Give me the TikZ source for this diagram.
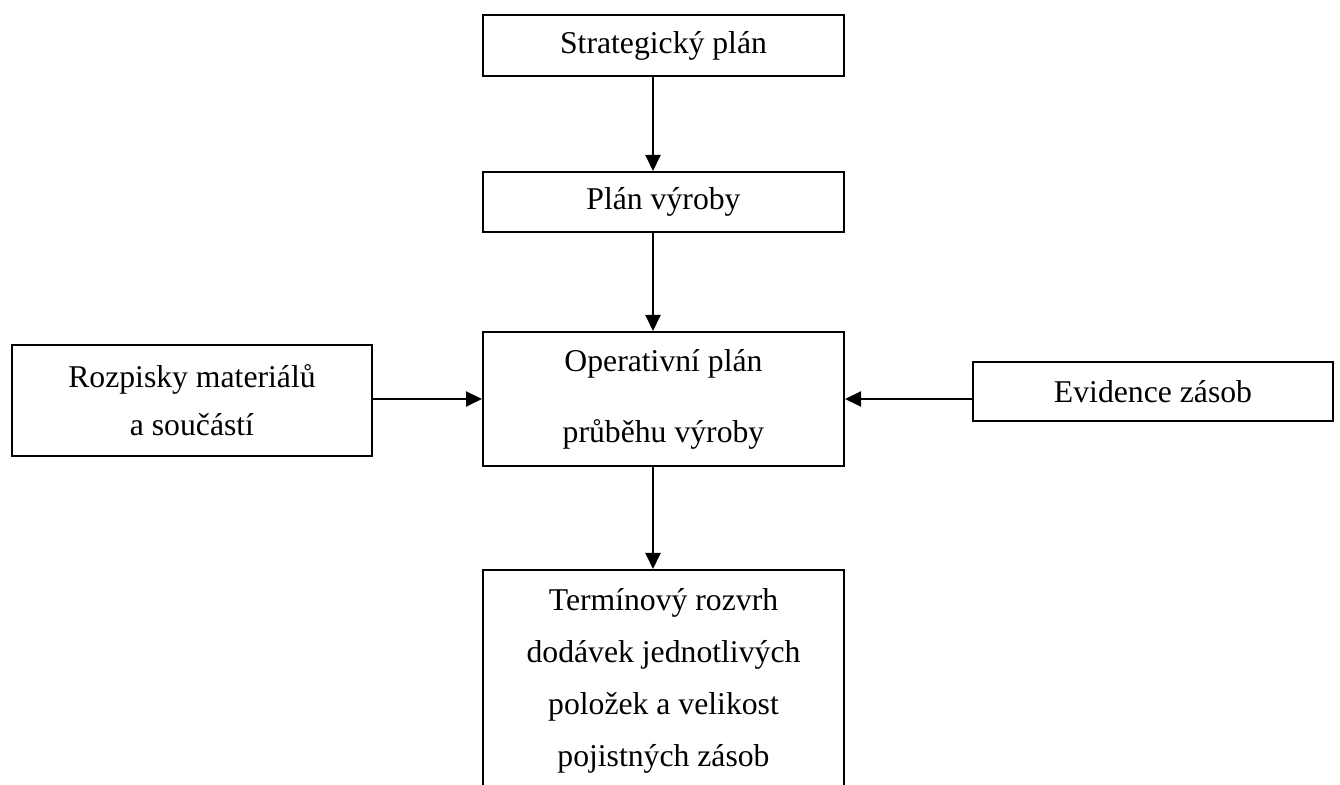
\documentclass[tikz,border=0pt]{standalone}
\usepackage{fontspec}
\setmainfont{Liberation Serif}
\usetikzlibrary{arrows.meta}

\tikzset{
  blok/.style={draw, line width=1pt, minimum width=180.5pt, inner sep=0pt, align=center, font=\fontsize{15.85}{24}\selectfont},
  sipka/.style={-{Triangle[length=8pt,width=7.5pt]}, line width=1pt}
}

\begin{document}
\begin{tikzpicture}[x=0.5pt,y=-0.5pt]
\useasboundingbox (0,0) rectangle (1340,785);
\clip (0,0) rectangle (1340,785);

\node[blok,minimum height=30.5pt] (strat) at (663.5,45.5) {Strategický plán};
\node[blok,minimum height=30pt] (plan) at (663.5,202) {Plán výroby};
\node[blok,minimum height=67pt] (oper) at (663.5,399) {Operativní plán\\[11.5pt]průběhu výroby};

\node[blok,minimum width=180pt,minimum height=55.5pt] (rozp) at (192,400.5) {Rozpisky materiálů\\a součástí};
\node[blok,minimum width=180pt,minimum height=29.5pt] (evid) at (1153,391.5) {Evidence zásob};

\node[blok,minimum height=110.5pt] (term) at (663.5,680.5) {Termínový rozvrh\\[2pt]dodávek jednotlivých\\[2pt]položek a velikost\\[2pt]pojistných zásob};

\coordinate (osa) at (653,0);

\draw[sipka] (strat.south -| osa) -- (plan.north -| osa);
\draw[sipka] (plan.south -| osa) -- (oper.north -| osa);
\draw[sipka] (oper.south -| osa) -- (term.north -| osa);

\draw[sipka] (rozp.east |- oper.west) -- (oper.west);
\draw[sipka] (evid.west |- oper.east) -- (oper.east);

\end{tikzpicture}
\end{document}
